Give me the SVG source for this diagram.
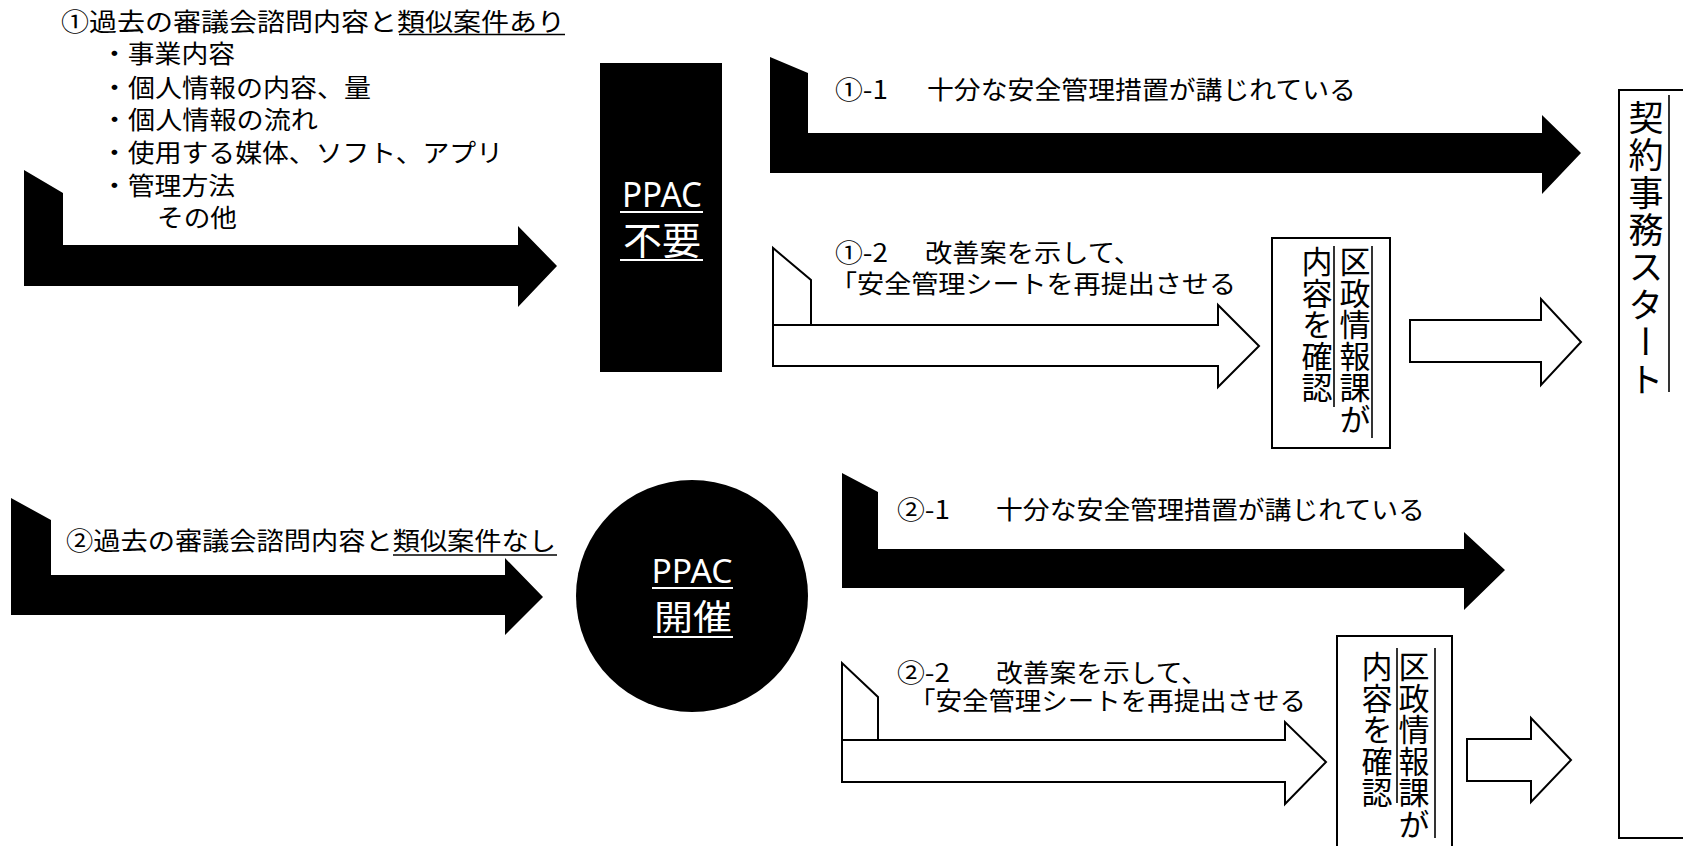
<svg xmlns="http://www.w3.org/2000/svg" width="1683" height="846" viewBox="0 0 1683 846">
<style>
.t{font-family:"Noto Sans CJK JP","Noto Sans",sans-serif;font-size:25px;fill:#000}
.w{font-family:"Noto Sans","Noto Sans CJK JP",sans-serif;fill:#fff}
.wj{font-family:"Noto Sans CJK JP",sans-serif;fill:#fff}
.v{font-family:"Noto Sans CJK JP",sans-serif;fill:#000;writing-mode:vertical-rl}
.blk{fill:#000;stroke:none}
.wht{fill:#fff;stroke:#000;stroke-width:2;stroke-linejoin:miter}
.box{fill:#fff;stroke:#000;stroke-width:2}
.ul{stroke:#000;stroke-width:1.6}
.wul{stroke:#fff;stroke-width:2}
</style>
<rect width="1683" height="846" fill="#fff"/>

<g id="connectors">
  <polygon id="arrow-case1" class="blk" points="24,170 63,193 63,245 518,245 518,226 557,266 518,307 518,286 24,286"/>
  <polygon id="arrow-case2" class="blk" points="11,498 51,520 51,575 505,575 505,558 543,597 505,635 505,615 11,615"/>
  <polygon id="arrow-1-1" class="blk" points="770,57 808,73 808,133 1542,133 1542,115 1581,153 1542,194 1542,173 770,173"/>
  <g id="arrow-1-2">
    <polygon class="wht" points="773,325 1218,325 1218,305 1259,346 1218,387 1218,366 773,366"/>
    <polygon class="wht" points="773,325 773,248 811,280 811,325"/>
  </g>
  <polygon id="arrow-1-3" class="wht" points="1410,320 1541,320 1541,299 1581,342 1541,385 1541,362 1410,362"/>
  <polygon id="arrow-2-1" class="blk" points="842,473 878,492 878,549 1464,549 1464,532 1505,570 1464,610 1464,588 842,588"/>
  <g id="arrow-2-2">
    <polygon class="wht" points="842,740 1285,740 1285,722 1326,762 1285,804 1285,782 842,782"/>
    <polygon class="wht" points="842,740 842,663 878,697 878,740"/>
  </g>
  <polygon id="arrow-2-3" class="wht" points="1467,739 1531,739 1531,718 1571,760 1531,802 1531,781 1467,781"/>
</g>

<g id="node-case1">
  <text class="t" x="61" y="31" textLength="504" lengthAdjust="spacingAndGlyphs">①過去の審議会諮問内容と類似案件あり</text>
  <line class="ul" x1="399" y1="34.5" x2="565" y2="34.5"/>
  <text class="t" x="101" y="63" textLength="134" lengthAdjust="spacingAndGlyphs">・事業内容</text>
  <text class="t" x="101" y="97" textLength="270" lengthAdjust="spacingAndGlyphs">・個人情報の内容、量</text>
  <text class="t" x="101" y="129" textLength="217" lengthAdjust="spacingAndGlyphs">・個人情報の流れ</text>
  <text class="t" x="101" y="162" textLength="402" lengthAdjust="spacingAndGlyphs">・使用する媒体、ソフト、アプリ</text>
  <text class="t" x="101" y="195" textLength="134" lengthAdjust="spacingAndGlyphs">・管理方法</text>
  <text class="t" x="157" y="227" textLength="80" lengthAdjust="spacingAndGlyphs">その他</text>
</g>

<g id="node-case2">
  <text class="t" x="66" y="550" textLength="490" lengthAdjust="spacingAndGlyphs">②過去の審議会諮問内容と類似案件なし</text>
  <line class="ul" x1="393" y1="555" x2="557" y2="555"/>
</g>

<g id="node-ppac-unneeded">
  <rect x="600" y="63" width="122" height="309" fill="#000"/>
  <text class="w" x="662" y="207" font-size="34" text-anchor="middle" textLength="80" lengthAdjust="spacingAndGlyphs">PPAC</text>
  <line class="wul" x1="620" y1="212" x2="703" y2="212"/>
  <text class="wj" x="662" y="254" font-size="38" text-anchor="middle" textLength="78" lengthAdjust="spacingAndGlyphs">不要</text>
  <line class="wul" x1="620" y1="260" x2="703" y2="260"/>
</g>

<g id="node-ppac-held">
  <circle cx="692" cy="596" r="116" fill="#000"/>
  <text class="w" x="692" y="583" font-size="33" text-anchor="middle" textLength="81" lengthAdjust="spacingAndGlyphs">PPAC</text>
  <line class="wul" x1="652" y1="588" x2="733" y2="588"/>
  <text class="wj" x="693" y="630" font-size="35" text-anchor="middle" textLength="78" lengthAdjust="spacingAndGlyphs">開催</text>
  <line class="wul" x1="653" y1="637" x2="733" y2="637"/>
</g>

<g id="label-1-1">
  <text class="t" y="99"><tspan x="835" textLength="53" lengthAdjust="spacingAndGlyphs">①-1</tspan><tspan x="927" textLength="429" lengthAdjust="spacingAndGlyphs">十分な安全管理措置が講じれている</tspan></text>
</g>
<g id="label-1-2">
  <text class="t" y="262"><tspan x="835" textLength="53" lengthAdjust="spacingAndGlyphs">①-2</tspan><tspan x="925" textLength="216" lengthAdjust="spacingAndGlyphs">改善案を示して、</tspan></text>
  <text class="t" x="830" y="293" textLength="406" lengthAdjust="spacingAndGlyphs">「安全管理シートを再提出させる</text>
</g>
<g id="label-2-1">
  <text class="t" y="519"><tspan x="897" textLength="53" lengthAdjust="spacingAndGlyphs">②-1</tspan><tspan x="996" textLength="429" lengthAdjust="spacingAndGlyphs">十分な安全管理措置が講じれている</tspan></text>
</g>
<g id="label-2-2">
  <text class="t" y="682"><tspan x="897" textLength="53" lengthAdjust="spacingAndGlyphs">②-2</tspan><tspan x="996" textLength="212" lengthAdjust="spacingAndGlyphs">改善案を示して、</tspan></text>
  <text class="t" x="909" y="710" textLength="397" lengthAdjust="spacingAndGlyphs">「安全管理シートを再提出させる</text>
</g>

<g id="node-check-1">
  <rect class="box" x="1272" y="238" width="118" height="210"/>
  <text class="v" x="1355" y="246" font-size="31" letter-spacing="0.5">区政情報課が</text>
  <line class="ul" x1="1372" y1="246" x2="1372" y2="438"/>
  <text class="v" x="1317" y="246" font-size="31" letter-spacing="0.5">内容を確認</text>
  <line class="ul" x1="1334" y1="246" x2="1334" y2="407"/>
</g>

<g id="node-check-2">
  <rect class="box" x="1337" y="636" width="115" height="220"/>
  <text class="v" x="1414" y="651" font-size="31" letter-spacing="0.5">区政情報課が</text>
  <line class="ul" x1="1435" y1="648" x2="1435" y2="838"/>
  <text class="v" x="1377" y="651" font-size="31" letter-spacing="0.5">内容を確認</text>
  <line class="ul" x1="1397" y1="648" x2="1397" y2="803"/>
</g>

<g id="node-contract-start">
  <rect class="box" x="1619" y="90" width="90" height="748"/>
  <text class="v" x="1646" y="100" font-size="35" letter-spacing="2.4">契約事務スタート</text>
  <line class="ul" x1="1669" y1="95" x2="1669" y2="392"/>
</g>
</svg>
